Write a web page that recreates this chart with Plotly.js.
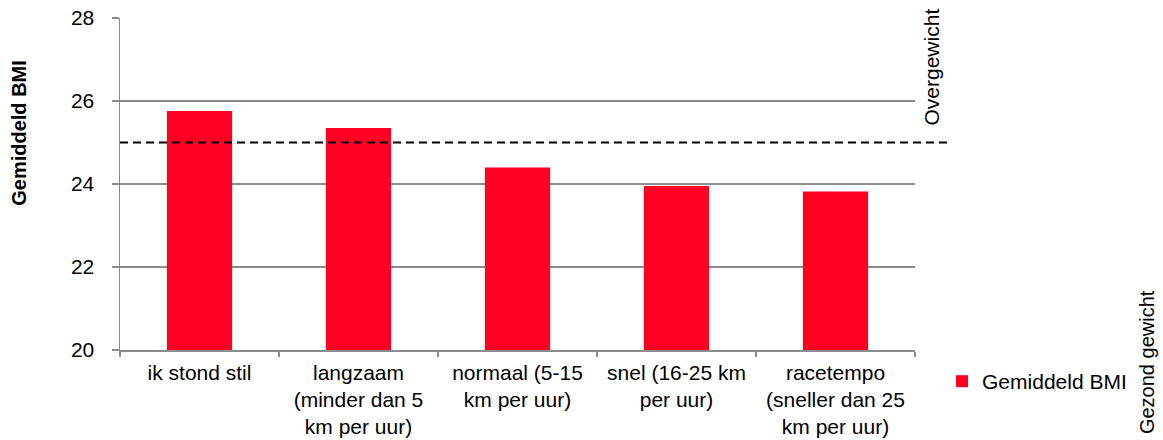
<!DOCTYPE html>
<html>
<head>
<meta charset="utf-8">
<script src="https://cdn.plot.ly/plotly-3.0.1.min.js"></script>
<style>html,body{margin:0;padding:0;background:#fff;}#chart{width:1163px;height:440px;}</style>
</head>
<body>
<div id="chart"></div>
<script>
const categories = [
  "ik stond stil",
  "langzaam<br>(minder dan 5<br>km per uur)",
  "normaal (5-15<br>km per uur)",
  "snel (16-25 km<br>per uur)",
  "racetempo<br>(sneller dan 25<br>km per uur)"
];
const bmiValues = [25.76, 25.35, 24.40, 23.95, 23.82];
const seriesName = "Gemiddeld BMI";
const thresholdValue = 25;
const yTicks = [20, 22, 24, 26, 28];
const axisTitle = "Gemiddeld BMI";
const upperLabel = "Overgewicht";
const lowerLabel = "Gezond gewicht";

const FONT = "Liberation Sans, Arial, sans-serif";
const GRID = "#8c8c8c";
const FS = 21;

const data = [{
  type: "bar",
  x: categories,
  y: bmiValues,
  name: seriesName,
  marker: {color: "#FF0022"},
  width: 0.41,
  showlegend: true
}];

const layout = {
  width: 1163, height: 440,
  margin: {l: 120, r: 248, t: 18, b: 90, pad: 0},
  paper_bgcolor: "#ffffff", plot_bgcolor: "#ffffff",
  font: {family: FONT, size: FS, color: "#000000"},
  bargap: 0.59,
  xaxis: {
    type: "category",
    showline: true, linecolor: GRID, linewidth: 1.5,
    ticks: "outside", tickson: "boundaries", ticklen: 5, tickcolor: GRID, tickwidth: 1.5,
    showgrid: false, zeroline: false,
    ticklabelstandoff: 3,
    tickfont: {family: FONT, size: FS, color: "#000"},
    fixedrange: true
  },
  yaxis: {
    range: [20, 28], tickvals: yTicks, ticktext: yTicks.map(String),
    showline: true, linecolor: GRID, linewidth: 1.5,
    ticks: "outside", ticklen: 7, tickcolor: GRID, tickwidth: 1.5,
    showgrid: true, gridcolor: GRID, gridwidth: 1.5,
    zeroline: false,
    ticklabelstandoff: 13,
    tickfont: {family: FONT, size: FS, color: "#000"},
    fixedrange: true
  },
  showlegend: true,
  legend: {
    x: 1.034, xref: "paper", xanchor: "left",
    y: -0.095, yanchor: "middle",
    font: {family: FONT, size: FS, color: "#000"},
    bgcolor: "rgba(0,0,0,0)", itemwidth: 30
  },
  shapes: [{
    type: "line", xref: "paper", yref: "y",
    x0: 0, x1: 1.0465, y0: thresholdValue, y1: thresholdValue,
    line: {color: "#000000", width: 2, dash: "8px,5px"}
  }],
  annotations: [
    {text: "<b>" + axisTitle + "</b>", xref: "paper", yref: "paper",
     x: -0.128, y: 0.655, xanchor: "center", yanchor: "middle", textangle: -90,
     showarrow: false, font: {family: FONT, size: 20, color: "#000"}},
    {text: upperLabel, xref: "paper", yref: "paper",
     x: 1.021, y: 0.853, xanchor: "center", yanchor: "middle", textangle: -90,
     showarrow: false, font: {family: FONT, size: FS, color: "#000"}},
    {text: lowerLabel, xref: "paper", yref: "paper",
     x: 1.292, y: -0.036, xanchor: "center", yanchor: "middle", textangle: -90,
     showarrow: false, font: {family: FONT, size: 20, color: "#000"}}
  ]
};

Plotly.newPlot("chart", data, layout, {displayModeBar: false, staticPlot: true});
</script>
</body>
</html>
